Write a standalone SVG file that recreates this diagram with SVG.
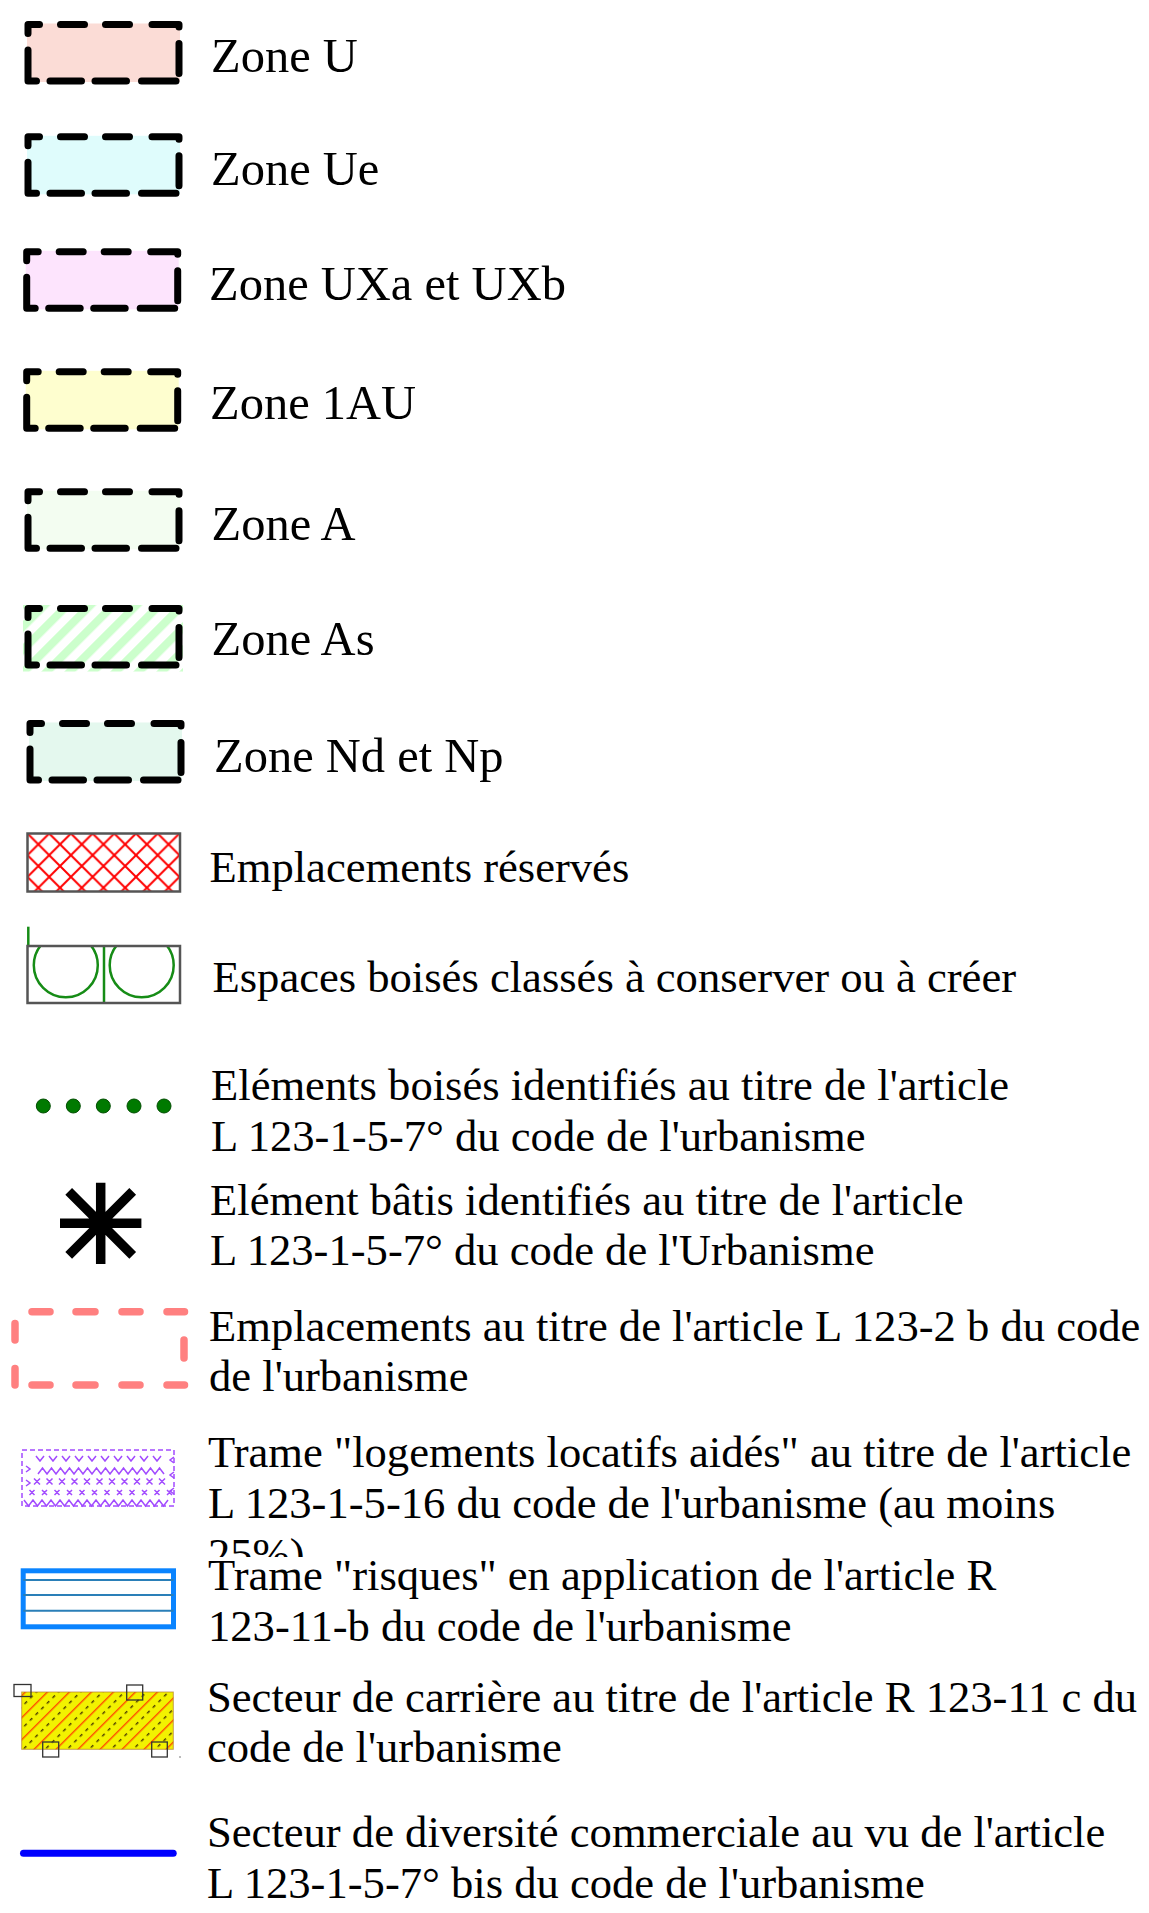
<svg xmlns="http://www.w3.org/2000/svg" width="1149" height="1913" viewBox="0 0 1149 1913">
<style>
 .zl{font-family:"Liberation Serif","Times New Roman",serif;font-size:48.5px;fill:#000}
 .tx{font-family:"Liberation Serif","Times New Roman",serif;font-size:44.6px;fill:#000}
 .zd{fill:none;stroke:#000;stroke-width:7;stroke-linecap:round;stroke-linejoin:round}
 .pk{fill:none;stroke:#ff8080;stroke-width:7.5;stroke-linecap:round}
 .gb{fill:none;stroke:#555;stroke-width:2.5}
 .gr{fill:none;stroke:#168c16;stroke-width:2.5}
 .pu{fill:none;stroke:#a24bff;stroke-width:1.5}
 .hd{fill:none;stroke:#333;stroke-width:1.3}
 .dot{fill:#007a00;stroke:#004d00;stroke-width:1}
</style>
<defs>
 <path id="zoneDash" class="zd" d="M28,33.5 V24.5 H39.5 M60.5,24.5 H84.5 M105.5,24.5 H129.5 M152,24.5 H179 V27 M179,43.5 V73.5 M176,81 H141.5 M126.5,81 H95 M81.5,81 H50 M36.5,81 H28 V50"/>
 <pattern id="hatchAs" patternUnits="userSpaceOnUse" width="16.26" height="10" patternTransform="rotate(45)"><rect width="8.1" height="10" fill="#ccffcc"/></pattern>
 <pattern id="cross" patternUnits="userSpaceOnUse" x="27.5" y="833.5" width="21.7" height="21.7"><path d="M0,0 L21.7,21.7 M21.7,0 L0,21.7 M-2,2 L2,-2 M19.7,23.7 L23.7,19.7 M-2,19.7 L2,23.7 M19.7,-2 L23.7,2" stroke="#ff0000" stroke-width="2" fill="none"/></pattern>
 <pattern id="carr" patternUnits="userSpaceOnUse" width="15.56" height="8" patternTransform="rotate(45)"><rect x="0" width="1.4" height="8" fill="#ff4d00"/><rect x="7.8" width="1.4" height="3.5" fill="#4a3a00"/></pattern>
 <clipPath id="ebcClip"><rect x="27.5" y="946" width="152.5" height="57"/></clipPath>
 <clipPath id="clip25"><rect x="0" y="1420" width="1149" height="137"/></clipPath>
</defs>

<g id="zone-u">
 <rect x="27" y="23.5" width="153" height="58.5" fill="#fbdcd6"/>
 <use href="#zoneDash"/>
 <text class="zl" x="211" y="72">Zone U</text>
</g>
<g id="zone-ue">
 <rect x="27" y="135.8" width="153" height="58.5" fill="#dffcfc"/>
 <use href="#zoneDash" transform="translate(0,112.3)"/>
 <text class="zl" x="211" y="185">Zone Ue</text>
</g>
<g id="zone-uxa-uxb">
 <rect x="25.7" y="250.8" width="153" height="58.5" fill="#fde4fd"/>
 <use href="#zoneDash" transform="translate(-1.3,227.3)"/>
 <text class="zl" x="209" y="300">Zone UXa et UXb</text>
</g>
<g id="zone-1au">
 <rect x="25.7" y="370.8" width="153" height="58.5" fill="#fefecf"/>
 <use href="#zoneDash" transform="translate(-1.3,347.3)"/>
 <text class="zl" x="210" y="419.3">Zone 1AU</text>
</g>
<g id="zone-a">
 <rect x="27" y="490.8" width="153" height="58.5" fill="#f3fdf1"/>
 <use href="#zoneDash" transform="translate(0,467.3)"/>
 <text class="zl" x="211.5" y="540">Zone A</text>
</g>
<g id="zone-as">
 <rect x="23" y="605" width="160" height="66.5" fill="url(#hatchAs)"/>
 <use href="#zoneDash" transform="translate(0,584)"/>
 <text class="zl" x="211.5" y="655">Zone As</text>
</g>
<g id="zone-nd-np">
 <rect x="29" y="722.5" width="153" height="58.5" fill="#e4f8ee"/>
 <use href="#zoneDash" transform="translate(2,699)"/>
 <text class="zl" x="214" y="771.7">Zone Nd et Np</text>
</g>

<g id="emplacements-reserves">
 <rect x="27.5" y="833.5" width="152.5" height="58" fill="url(#cross)" stroke="#555" stroke-width="2.5"/>
 <text class="tx" x="209.5" y="881.7">Emplacements réservés</text>
</g>

<g id="espaces-boises-classes">
 <g clip-path="url(#ebcClip)">
  <circle cx="65.8" cy="965.3" r="32" class="gr"/>
  <circle cx="141.7" cy="965.3" r="32" class="gr"/>
 </g>
 <line x1="104" y1="946" x2="104" y2="1003" class="gr"/>
 <line x1="28.3" y1="926.7" x2="28.3" y2="946" class="gr"/>
 <rect x="27.5" y="946" width="152.5" height="57" class="gb"/>
 <text class="tx" x="212.5" y="991.7">Espaces boisés classés à conserver ou à créer</text>
</g>

<g id="elements-boises">
 <circle class="dot" cx="43.3" cy="1106" r="7"/>
 <circle class="dot" cx="73.3" cy="1106" r="7"/>
 <circle class="dot" cx="103.3" cy="1106" r="7"/>
 <circle class="dot" cx="134" cy="1106" r="7"/>
 <circle class="dot" cx="164" cy="1106" r="7"/>
 <text class="tx" x="211" y="1100">Eléments boisés identifiés au titre de l'article</text>
 <text class="tx" x="211" y="1150.5">L 123-1-5-7° du code de l'urbanisme</text>
</g>

<g id="elements-batis">
 <path d="M100.7,1182.7 V1264 M60,1223.3 H141.4 M68.7,1191.3 L132.7,1255.3 M68.7,1255.3 L132.7,1191.3" stroke="#000" stroke-width="9.5" fill="none"/>
 <text class="tx" x="210" y="1215">Elément bâtis identifiés au titre de l'article</text>
 <text class="tx" x="210" y="1265">L 123-1-5-7° du code de l'Urbanisme</text>
</g>

<g id="emplacements-l123-2b">
 <path class="pk" d="M32,1311.7 H50 M76,1311.7 H95 M122,1311.7 H140 M167,1311.7 H184.5 M15,1323.5 V1340 M15,1368.5 V1385 M184,1340 V1358 M32,1385 H50 M76,1385 H95 M122,1385 H140 M167,1385 H184.5"/>
 <text class="tx" x="209" y="1341">Emplacements au titre de l'article L 123-2 b du code</text>
 <text class="tx" x="209" y="1390.5">de l'urbanisme</text>
</g>

<g id="trame-logements">
 <rect x="22" y="1450" width="152" height="56" class="pu" stroke-dasharray="5,3"/>
 <path class="pu" d="M36,1456 l4,5 4,-5 m5,0 l4,5 4,-5 m5,0 l4,5 4,-5 m5,0 l4,5 4,-5 m5,0 l4,5 4,-5 m5,0 l4,5 4,-5 m5,0 l4,5 4,-5 m5,0 l4,5 4,-5 m5,0 l4,5 4,-5 m5,0 l4,5 4,-5"/>
 <path class="pu" d="M38,1474 l4.5,-6 4.5,6 4.5,-6 4.5,6 4.5,-6 4.5,6 4.5,-6 4.5,6 4.5,-6 4.5,6 4.5,-6 4.5,6 4.5,-6 4.5,6 4.5,-6 4.5,6 4.5,-6 4.5,6 4.5,-6 4.5,6 4.5,-6 4.5,6 4.5,-6 4.5,6 4.5,-6 4.5,6 4.5,-6 4.5,6"/>
 <path class="pu" d="M34,1478.5 l6,6 m0,-6 l-6,6 m12.5,-6 l6,6 m0,-6 l-6,6 m12.5,-6 l6,6 m0,-6 l-6,6 m12.5,-6 l6,6 m0,-6 l-6,6 m12.5,-6 l6,6 m0,-6 l-6,6 m12.5,-6 l6,6 m0,-6 l-6,6 m12.5,-6 l6,6 m0,-6 l-6,6 m12.5,-6 l6,6 m0,-6 l-6,6 m12.5,-6 l6,6 m0,-6 l-6,6 m12.5,-6 l6,6 m0,-6 l-6,6 m12.5,-6 l6,6 m0,-6 l-6,6"/>
 <path class="pu" d="M29.5,1490 l5,5 m0,-5 l-5,5 m12.5,-5 l5,5 m0,-5 l-5,5 m12.5,-5 l5,5 m0,-5 l-5,5 m12.5,-5 l5,5 m0,-5 l-5,5 m12.5,-5 l5,5 m0,-5 l-5,5 m12.5,-5 l5,5 m0,-5 l-5,5 m12.5,-5 l5,5 m0,-5 l-5,5 m12.5,-5 l5,5 m0,-5 l-5,5 m12.5,-5 l5,5 m0,-5 l-5,5 m12.5,-5 l5,5 m0,-5 l-5,5 m12.5,-5 l5,5 m0,-5 l-5,5 m12.5,-5 l5,5 m0,-5 l-5,5"/>
 <path class="pu" d="M24,1500 l4.5,6 4.5,-6 4.5,6 4.5,-6 4.5,6 4.5,-6 4.5,6 4.5,-6 4.5,6 4.5,-6 4.5,6 4.5,-6 4.5,6 4.5,-6 4.5,6 4.5,-6 4.5,6 4.5,-6 4.5,6 4.5,-6 4.5,6 4.5,-6 4.5,6 4.5,-6 4.5,6 4.5,-6 4.5,6 4.5,-6 4.5,6 4.5,-6 4.5,6 4.5,-6"/>
 <path class="pu" d="M174,1457 l-4,3 4,3 M174,1472 l-4,3 4,3 M174,1488 l-4,3 4,3 M26,1466 l4,3 -4,3 M26,1480 l4,3 -4,3"/>
 <text class="tx" x="208" y="1466.7">Trame "logements locatifs aidés" au titre de l'article</text>
 <text class="tx" x="208" y="1518">L 123-1-5-16 du code de l'urbanisme (au moins</text>
 <text class="tx" x="208" y="1569" clip-path="url(#clip25)">25%)</text>
</g>

<g id="trame-risques">
 <rect x="23.2" y="1570.8" width="150.3" height="56" fill="#fff" stroke="#0a84ff" stroke-width="5"/>
 <path d="M23.2,1580 H173.5 M23.2,1595 H173.5 M23.2,1610.7 H173.5" stroke="#2a7fb8" stroke-width="2" fill="none"/>
 <text class="tx" x="208" y="1590">Trame "risques" en application de l'article R</text>
 <text class="tx" x="208" y="1641">123-11-b du code de l'urbanisme</text>
</g>

<g id="secteur-carriere">
 <rect x="21.7" y="1692" width="151.6" height="57.3" fill="#f2f200"/>
 <rect x="21.7" y="1692" width="151.6" height="57.3" fill="url(#carr)" stroke="#b07a30" stroke-width="1" stroke-opacity="0.7"/>
 <rect class="hd" x="14" y="1684.5" width="17" height="12"/>
 <rect class="hd" x="126.7" y="1685" width="16" height="15"/>
 <rect class="hd" x="42.7" y="1742" width="16" height="15"/>
 <rect class="hd" x="151.7" y="1742" width="15.6" height="15"/>
 <circle cx="180" cy="1757" r="0.8" fill="#666"/>
 <text class="tx" x="207" y="1712">Secteur de carrière au titre de l'article R 123-11 c du</text>
 <text class="tx" x="207" y="1762">code de l'urbanisme</text>
</g>

<g id="secteur-diversite">
 <line x1="23.5" y1="1853.3" x2="173.2" y2="1853.3" stroke="#0000ff" stroke-width="7" stroke-linecap="round"/>
 <text class="tx" x="207" y="1847">Secteur de diversité commerciale au vu de l'article</text>
 <text class="tx" x="207" y="1898">L 123-1-5-7° bis du code de l'urbanisme</text>
</g>
</svg>
